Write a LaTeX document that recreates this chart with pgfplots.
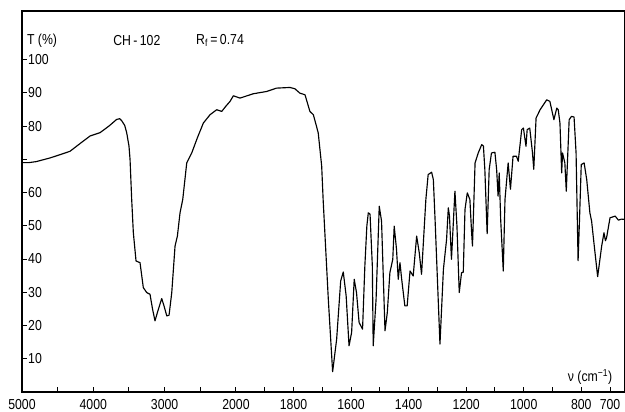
\documentclass[border=0pt]{standalone}
\usepackage{fontspec}
\setmainfont{Liberation Sans}[FakeStretch=0.85]
\usepackage{pgfplots}
\pgfplotsset{compat=1.18}
\begin{document}
\fontsize{14.5}{16}\selectfont
\begin{tikzpicture}
\begin{axis}[
  scale only axis,
  width=603bp, height=381bp,
  x coord trafo/.code={\pgfmathparse{0.0713*(5000-max(#1,2000))+0.2877*(2000-min(#1,2000))}},
  xmin=5000, xmax=648,
  ymin=0, ymax=114.6,
  axis line style={line width=1.2bp},
  tick pos=left,
  tick align=inside,
  major tick length=5bp,
  tick style={line width=1bp, black},
  xtick={5000,4500,4000,3500,3000,2500,2000,1900,1800,1700,1600,1500,1400,1300,1200,1100,1000,900,800,700},
  xticklabels={5000,,4000,,3000,,2000,,1800,,1600,,1400,,1200,,1000,,800,700},
  ytick={10,20,30,40,50,60,70,80,90,100},
  yticklabels={10,20,30,40,50,60,,80,90,100},
  yticklabel style={anchor=west, inner sep=0pt, xshift=6bp},
  xticklabel style={anchor=north, inner sep=0pt, yshift=-7bp},
  /pgf/number format/assume math mode=true,
  clip=false,
]
\addplot[black, line width=1.15bp, line join=round] table {
5000 69.0
4900 69.0
4800 69.3
4607 70.4
4450 71.5
4327 72.4
4200 74.5
4046 77.0
3906 78.0
3780 80.0
3672 82.0
3630 82.2
3602 81.6
3560 80.2
3532 78.0
3500 74.0
3485 70.0
3462 58.0
3439 48.0
3401 39.4
3345 38.9
3299 31.4
3251 29.9
3205 29.4
3170 25.0
3135 21.4
3100 24.0
3041 28.1
3010 26.0
2970 22.9
2938 23.1
2900 29.9
2854 43.9
2821 46.9
2784 53.9
2746 57.9
2690 68.9
2620 71.9
2540 76.5
2457 80.9
2363 83.4
2270 84.9
2199 84.4
2140 86.0
2083 87.4
2036 89.1
1986 88.4
1940 89.7
1893 90.4
1859 91.4
1812 91.6
1795 91.2
1778 89.9
1760 89.4
1743 84.4
1731 83.4
1720 79.9
1714 77.9
1702 67.9
1697 57.9
1679 27.9
1664 6.1
1650 15.9
1636 33.4
1627 36.1
1617 28.9
1607 13.9
1598 17.9
1589 33.9
1581 29.9
1572 20.9
1560 18.9
1552 37.9
1545 50.0
1540 53.9
1534 53.5
1526 37.9
1523 13.9
1513 27.9
1502 55.9
1494 51.4
1482 18.4
1474 23.9
1465 35.9
1455 39.9
1450 49.9
1442 42.9
1436 33.9
1430 38.9
1424 33.9
1413 25.9
1405 25.9
1395 36.4
1384 34.9
1372 46.9
1363 41.9
1355 35.4
1340 57.9
1332 65.4
1320 66.1
1314 63.9
1308 51.9
1291 14.4
1279 36.9
1268 45.9
1262 55.4
1258 53.0
1251 39.9
1239 60.4
1232 50.0
1224 29.9
1216 35.9
1210 36.0
1204 54.9
1196 59.9
1187 57.9
1181 47.9
1178 43.9
1169 68.9
1158 71.9
1146 74.4
1140 74.0
1135 66.9
1127 47.6
1120 66.9
1112 71.9
1100 72.1
1094 66.9
1089 58.9
1085 65.9
1080 51.9
1071 36.4
1065 57.9
1054 68.9
1046 61.0
1037 70.9
1025 70.9
1019 69.4
1007 78.9
1001 79.4
992 73.9
988 78.9
979 79.4
970 72.4
965 67.0
957 82.4
943 84.9
920 87.9
909 87.4
895 81.9
885 85.4
880 84.9
874 80.9
868 65.9
865 71.9
857 68.9
852 60.4
842 81.9
834 82.9
825 82.7
818 71.9
811 39.5
806 52.0
800 68.4
790 68.9
781 63.9
770 53.9
764 51.4
756 44.9
743 34.7
729 43.9
721 47.9
716 45.5
712 46.4
700 52.4
682 52.9
671 51.7
660 52.0
648 51.9
};
\node[anchor=west, inner sep=0pt] at (rel axis cs:0.008,0.922) {T (\%)};
\node[anchor=west, inner sep=0pt] at (rel axis cs:0.151,0.922) {CH\,-\,102};
\node[anchor=west, inner sep=0pt] at (rel axis cs:0.2886,0.922) {R\textsubscript{f}\,=\,0.74};
\node[anchor=west, inner sep=0pt] at (rel axis cs:0.905,0.039) {ν (cm\textsuperscript{−1})};
\end{axis}
\pgfresetboundingbox
\useasboundingbox ([xshift=-22bp,yshift=-20bp]current axis.south west) rectangle ([yshift=11bp]current axis.north east);
\end{tikzpicture}
\end{document}
